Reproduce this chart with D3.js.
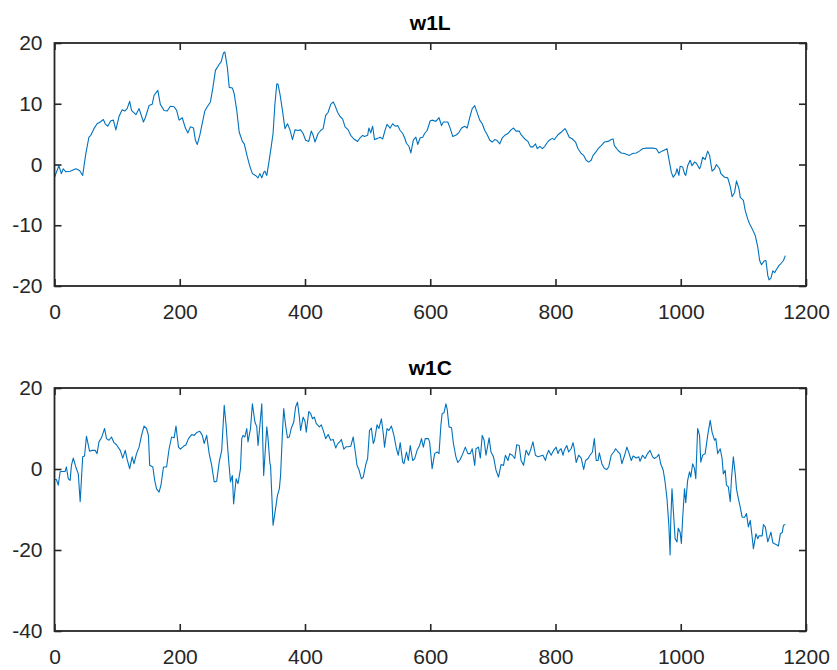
<!DOCTYPE html>
<html>
<head>
<meta charset="utf-8">
<script src="https://cdn.jsdelivr.net/npm/d3@7"></script>
<style>
  html, body { margin: 0; padding: 0; background: #fff; }
  svg { display: block; }
  text { font-family: "Liberation Sans", Arial, Helvetica, sans-serif; }
</style>
</head>
<body>
<svg id="chart" width="837" height="670"></svg>
<script>
// ---- data ----
const titles = ["w1L", "w1C"];
const xTicks = [0, 200, 400, 600, 800, 1000, 1200];
const yTicksTop = [-20, -10, 0, 10, 20];
const yTicksBottom = [-40, -20, 0, 20];

const w1L_x = [0,7,11,14,18,25,34,40,45,50,55,58,63,68,73,78,81,85,90,94,98,103,108,112,116,120,123,130,135,137,142,145,151,156,159,165,169,175,180,185,191,195,199,204,209,213,217,222,225,228,232,236,240,244,249,253,257,263,266,270,272,276,279,284,287,291,295,300,303,308,312,316,321,325,328,331,334,336,339,343,346,349,352,355,357,360,364,368,372,376,380,384,389,393,397,401,406,410,413,416,421,425,429,433,437,441,445,448,452,456,460,464,469,473,478,484,488,492,495,500,502,505,508,511,516,520,524,528,531,536,540,544,548,552,556,559,562,566,569,573,577,580,584,588,591,595,600,604,609,614,618,621,626,628,632,636,642,646,650,655,659,663,667,671,675,679,683,687,691,695,699,703,706,711,715,719,724,729,733,737,742,745,751,756,760,764,768,771,775,779,783,786,790,795,798,804,809,815,817,822,827,832,836,841,845,849,853,857,860,864,868,873,878,884,889,892,894,900,905,910,913,918,923,929,934,939,945,950,955,961,965,970,974,978,982,985,988,992,994,997,999,1003,1006,1008,1011,1015,1018,1022,1025,1030,1032,1035,1039,1043,1046,1050,1054,1057,1062,1064,1070,1075,1079,1082,1086,1089,1093,1095,1100,1103,1107,1110,1115,1119,1123,1126,1129,1133,1136,1139,1141,1144,1147,1150,1152,1157,1160,1164,1167];
const w1L_y = [-2.1,-0.2,-1.5,-0.7,-1.2,-1.1,-0.7,-1.0,-1.8,1.8,4.5,4.8,5.9,6.7,7.0,7.4,6.7,6.3,7.2,7.3,5.7,7.9,9.0,8.8,9.2,10.4,8.9,8.2,9.2,8.6,7.0,7.7,9.7,9.9,11.4,12.2,9.9,8.9,8.8,9.6,9.5,8.9,7.3,7.7,6.0,5.2,6.2,6.0,4.0,3.3,4.8,6.8,8.8,9.5,10.3,12.7,15.5,16.5,16.9,18.4,18.5,16.0,12.7,12.6,11.6,8.9,5.3,3.8,3.4,1.2,-0.3,-1.5,-1.8,-2.2,-1.5,-2.2,-1.3,-1.1,-1.8,0.8,2.9,5.1,10.0,13.3,13.2,11.6,8.9,5.9,6.7,5.7,4.1,5.7,5.6,5.7,5.1,4.0,3.8,5.5,4.8,3.7,5.1,5.6,5.9,8.1,8.6,9.9,10.3,9.7,8.6,7.9,7.5,6.2,5.7,4.8,4.2,3.8,4.4,4.8,4.6,4.8,6.0,5.2,6.3,4.1,4.3,4.5,4.2,5.7,6.6,6.0,6.7,6.3,6.4,5.6,5.1,4.4,3.5,3.0,1.9,4.0,4.5,3.3,4.4,4.5,5.1,5.6,7.2,7.3,7.1,7.7,6.4,7.0,7.0,7.0,5.9,4.6,4.9,5.3,6.0,6.3,6.0,7.7,9.2,9.7,8.5,7.3,6.7,5.6,4.9,4.0,3.7,4.1,4.0,3.4,4.4,4.8,5.1,5.7,6.0,5.5,5.5,4.9,4.2,3.8,2.9,2.9,3.4,2.6,3.0,2.6,3.0,3.5,4.0,4.3,4.1,4.9,5.3,5.9,5.6,4.5,4.2,3.7,2.6,1.8,1.5,0.7,0.4,0.7,1.5,2.0,2.6,3.1,3.7,3.8,4.1,4.2,3.1,2.3,1.9,1.8,1.7,1.5,1.8,1.9,2.2,2.6,2.7,2.7,2.7,2.6,1.9,2.2,2.4,2.6,0.4,-1.3,-2.1,-1.5,-0.7,-1.8,-0.3,-0.4,-1.5,-1.8,-0.2,0.7,-0.2,0.4,0.2,-0.7,-0.2,1.2,0.8,2.2,1.5,-1.1,-0.7,0.0,-0.7,-1.5,-2.1,-2.2,-3.6,-5.3,-4.6,-2.7,-4.0,-5.4,-5.9,-7.6,-9.0,-9.8,-10.8,-11.7,-13.6,-15.8,-16.5,-15.9,-15.8,-18.3,-19.0,-18.7,-17.5,-17.8,-17.4,-16.6,-16.3,-15.8,-15.0];

const w1C_x = [0,3,6,9,11,17,19,22,25,27,30,34,38,41,45,48,51,56,60,65,68,71,75,80,83,87,91,95,99,105,109,113,116,120,124,127,131,135,139,143,147,150,152,157,160,163,167,170,174,179,183,187,191,194,198,201,206,210,214,219,223,227,232,236,239,243,247,251,255,259,263,267,271,274,277,281,284,286,290,293,297,299,301,304,307,309,313,316,320,323,325,328,331,334,339,341,344,345,349,353,356,359,361,364,366,369,372,375,378,382,385,388,391,393,397,400,402,406,409,412,415,418,423,426,430,433,437,441,445,449,452,456,458,462,466,469,473,477,481,483,486,490,493,497,500,503,506,509,511,515,518,522,525,527,531,534,538,542,546,549,552,556,558,562,565,568,572,575,579,583,586,589,592,597,599,603,607,611,614,617,619,622,625,627,630,634,637,641,644,648,652,656,660,664,667,671,673,677,680,683,686,689,694,697,701,705,709,713,717,720,724,727,731,735,738,742,745,749,753,757,760,764,768,772,776,780,784,786,789,793,797,801,804,806,809,812,814,818,821,825,828,830,833,837,841,845,848,852,855,859,862,865,868,870,874,878,882,885,889,893,896,900,903,906,910,914,917,921,924,929,933,935,939,943,947,951,955,958,962,965,968,972,975,978,981,983,984,986,989,991,994,996,999,1001,1003,1006,1008,1011,1014,1016,1019,1022,1024,1027,1030,1032,1035,1039,1043,1047,1050,1054,1056,1059,1063,1066,1068,1071,1073,1076,1079,1081,1084,1087,1089,1092,1095,1098,1102,1105,1108,1111,1114,1116,1120,1123,1125,1130,1132,1135,1139,1141,1144,1147,1149,1153,1156,1159,1162,1164,1167];
const w1C_y = [-2.6,-2.6,-4.0,-0.7,-0.6,-0.6,0.5,-2.4,-2.8,0.9,2.7,0.5,-1.2,-8.1,3.0,3.2,8.1,4.4,4.6,4.6,3.8,6.7,7.7,10.0,7.5,7.1,7.9,6.5,6.0,4.6,2.7,4.6,2.4,0.1,3.0,1.3,3.8,5.4,8.3,10.6,10.0,8.3,0.9,0.5,-2.8,-4.9,-5.7,-4.0,0.5,0.5,5.0,7.9,7.7,10.6,5.4,4.9,5.6,6.0,7.5,8.5,8.3,9.0,9.3,8.3,6.3,8.3,3.8,0.9,-3.2,-3.0,1.7,4.6,15.7,10.8,4.2,-3.2,-1.6,-8.6,-2.4,-3.6,0.1,7.5,8.3,7.9,10.0,6.7,10.0,16.1,11.6,10.4,5.8,10.8,16.1,-1.6,10.4,7.5,1.3,0.9,-13.9,-9.8,-6.5,-4.9,-1.6,9.1,14.9,10.8,7.7,7.9,10.0,11.6,15.3,16.5,12.8,9.5,12.8,11.8,9.1,14.2,13.7,12.4,12.8,11.2,10.4,10.9,9.1,7.5,8.5,7.1,7.3,5.2,6.2,6.8,7.3,4.9,5.5,5.5,5.6,7.9,3.4,0.9,-0.1,-2.4,-2.0,1.1,2.6,9.5,10.1,6.3,7.1,10.9,10.0,12.4,8.7,5.4,10.0,9.5,10.6,8.3,5.0,3.4,6.5,1.7,1.3,4.2,2.1,5.8,2.1,2.5,4.6,5.8,7.5,5.4,7.5,7.5,6.7,0.1,3.8,4.2,3.8,10.8,13.7,13.9,16.1,14.8,10.4,10.2,6.3,3.0,1.6,2.4,3.8,5.4,3.8,3.8,5.0,0.9,5.0,5.4,2.7,8.3,7.1,3.4,7.7,4.2,3.0,-0.3,-2.0,1.1,0.9,3.4,2.1,3.8,3.4,2.6,6.0,5.8,2.1,0.9,4.6,3.4,4.6,6.7,3.4,3.0,3.2,3.4,2.1,3.4,4.6,3.4,4.6,5.4,3.8,4.6,5.0,3.4,4.6,5.8,4.2,5.0,6.5,5.0,1.6,3.4,2.7,-0.1,2.1,2.6,3.4,4.2,7.5,2.1,2.1,4.0,1.3,0.1,-0.1,0.5,3.4,4.2,5.0,4.2,3.8,1.3,3.2,5.4,4.1,2.1,3.2,2.7,3.0,1.9,3.4,2.6,3.8,4.6,3.0,2.6,3.0,3.6,1.3,-0.3,-3.2,-7.3,-13.9,-21.2,-13.1,-4.9,-12.3,-17.2,-18.0,-14.6,-15.6,-18.4,-12.3,-4.9,-8.3,-2.8,-0.7,-2.0,1.3,0.1,-2.4,10.0,8.3,1.7,3.4,3.8,8.3,12.0,9.1,7.1,7.5,3.8,5.0,2.6,-1.2,-0.3,-4.0,-4.4,-8.1,-2.4,3.0,-1.2,-4.9,-7.3,-9.4,-11.9,-11.9,-11.0,-14.3,-12.7,-16.8,-19.7,-16.0,-17.2,-16.5,-16.5,-13.7,-14.3,-18.0,-17.0,-15.6,-18.2,-18.4,-18.7,-19.0,-16.0,-15.7,-13.9,-13.7];

// ---- drawing ----
const svg = d3.select("#chart");
const axisColor = "#262626";
const lineColor = "#0072BD";
const left = 54.5, right = 806;
const fmt = d => String(d); // plain hyphen-minus like the reference

const panels = [
  { title: titles[0], xs: w1L_x, ys: w1L_y, top: 43, bottom: 286, domain: [-20, 20], yTicks: yTicksTop },
  { title: titles[1], xs: w1C_x, ys: w1C_y, top: 388, bottom: 631, domain: [-40, 20], yTicks: yTicksBottom }
];

const x = d3.scaleLinear().domain([0, 1200]).range([left, right]);

panels.forEach(p => {
  const y = d3.scaleLinear().domain(p.domain).range([p.bottom, p.top]);
  const g = svg.append("g");

  // data line
  const pts = p.xs.map((v, i) => [v, p.ys[i]]);
  g.append("path")
    .datum(pts)
    .attr("fill", "none")
    .attr("stroke", lineColor)
    .attr("stroke-width", 1.1)
    .attr("stroke-linejoin", "round")
    .attr("d", d3.line().x(d => x(d[0])).y(d => y(d[1])));

  const tickLen = 7;
  const styleAxis = sel => {
    sel.select(".domain").remove();
    sel.selectAll(".tick line").attr("stroke", axisColor).attr("stroke-width", 1.6);
    sel.selectAll(".tick text")
      .attr("fill", axisColor)
      .style("font-size", "21px")
      .style("font-family", '"Liberation Sans", Arial, Helvetica, sans-serif');
  };

  g.append("g").attr("transform", `translate(0,${p.bottom})`)
    .call(d3.axisBottom(x).tickValues(xTicks).tickSize(-tickLen).tickPadding(18).tickFormat(fmt))
    .call(styleAxis);
  g.append("g").attr("transform", `translate(0,${p.top})`)
    .call(d3.axisTop(x).tickValues(xTicks).tickSize(-tickLen).tickFormat(""))
    .call(styleAxis);
  g.append("g").attr("transform", `translate(${left},0)`)
    .call(d3.axisLeft(y).tickValues(p.yTicks).tickSize(-tickLen).tickPadding(12).tickFormat(fmt))
    .call(styleAxis);
  g.append("g").attr("transform", `translate(${right},0)`)
    .call(d3.axisRight(y).tickValues(p.yTicks).tickSize(-tickLen).tickFormat(""))
    .call(styleAxis);

  // box
  g.append("rect")
    .attr("x", left).attr("y", p.top)
    .attr("width", right - left).attr("height", p.bottom - p.top)
    .attr("fill", "none").attr("stroke", axisColor).attr("stroke-width", 1.8);

  // title
  g.append("text")
    .attr("x", (left + right) / 2).attr("y", p.top - 13)
    .attr("text-anchor", "middle")
    .attr("fill", "#000")
    .style("font-size", "21px")
    .style("font-weight", "bold")
    .text(p.title);
});
</script>
</body>
</html>
